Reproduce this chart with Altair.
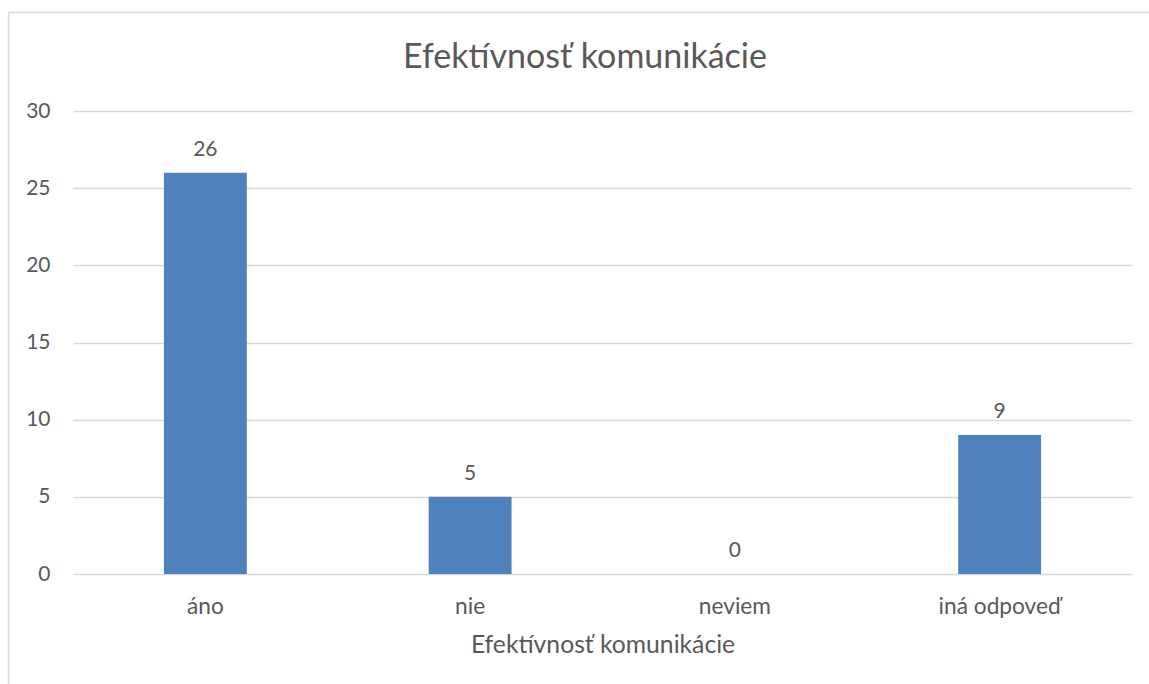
import altair as alt
import pandas as pd

# Survey answers and counts
categories = ["áno", "nie", "neviem", "iná odpoveď"]
counts = [26, 5, 0, 9]
y_ticks = [0, 5, 10, 15, 20, 25, 30]

chart_title = "Efektívnosť komunikácie"
axis_title = "Efektívnosť komunikácie"

FONT = "Lato"
TEXT = "#595959"
GRID = "#d9d9d9"
BAR = "#4f81bd"

df = pd.DataFrame({"odpoved": categories, "pocet": counts})
one = pd.DataFrame({"k": [0]})

x_enc = alt.X(
    "odpoved:N",
    sort=categories,
    scale=alt.Scale(paddingInner=0.687, paddingOuter=0.3435),
    axis=alt.Axis(
        title=axis_title,
        labelAngle=0,
        ticks=False,
        tickSize=0,
        domain=False,
        labelPadding=39,
        labelBaseline="alphabetic",
        labelFontSize=22.7,
        labelColor=TEXT,
        labelFont=FONT,
        titleFont=FONT,
        titleFontSize=24.7,
        titleFontWeight="normal",
        titleColor=TEXT,
        titleBaseline="alphabetic",
        titleY=78,
    ),
)
y_enc = alt.Y(
    "pocet:Q",
    scale=alt.Scale(domain=[0, 30], nice=False),
    axis=alt.Axis(
        title=None,
        values=y_ticks,
        ticks=False,
        tickSize=0,
        domain=False,
        labelPadding=23,
        labelFontSize=21,
        labelColor=TEXT,
        labelFont=FONT,
        gridColor=GRID,
        gridWidth=1.4,
    ),
)

bars = alt.Chart(df).mark_bar(color=BAR).encode(x=x_enc, y=y_enc)

labels = alt.Chart(df).mark_text(
    font=FONT, fontSize=21, color=TEXT, baseline="alphabetic", dy=-17
).encode(
    x=alt.X("odpoved:N", sort=categories),
    y="pocet:Q",
    text="pocet:Q",
)

title = alt.Chart(one).mark_text(
    font=FONT, fontSize=34, color=TEXT, baseline="alphabetic", align="center", text=chart_title
).encode(x=alt.value(512), y=alt.value(-43))

# outer frame: top and left edges
frame_top = alt.Chart(one).mark_rule(color=GRID, strokeWidth=1.5).encode(
    x=alt.value(-64.5), x2=alt.value(1076), y=alt.value(-98.5)
)
frame_left = alt.Chart(one).mark_rule(color=GRID, strokeWidth=1.5).encode(
    x=alt.value(-64.5), y=alt.value(-98.5), y2=alt.value(573)
)

chart = (
    alt.layer(frame_top, frame_left, bars, labels, title)
    .properties(
        width=1059,
        height=463,
        autosize=alt.AutoSizeParams(type="none"),
        padding={"left": 73, "top": 111, "right": 17, "bottom": 110},
        background="white",
    )
    .configure_view(stroke=None)
)

chart.save("out.html", embed_options={"renderer": "svg", "actions": False})
